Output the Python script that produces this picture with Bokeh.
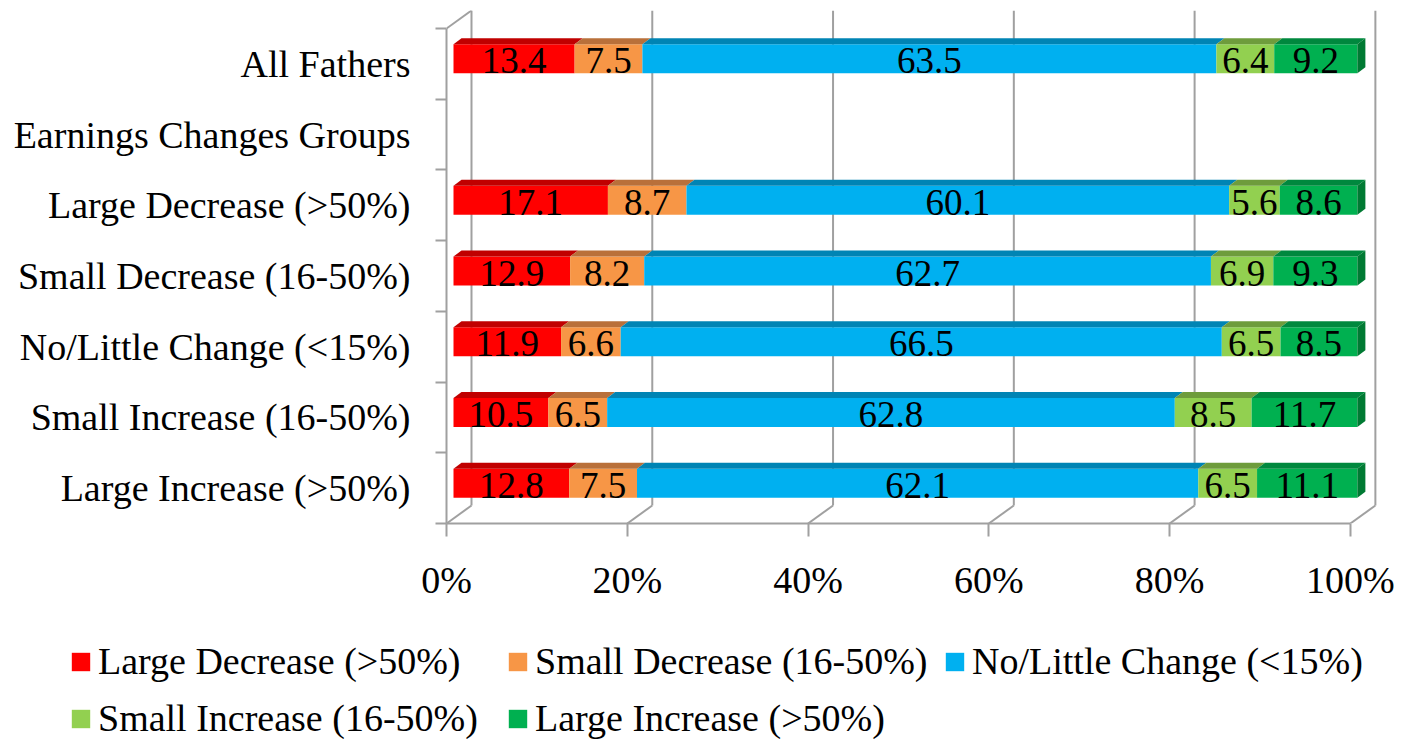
from bokeh.plotting import figure
from bokeh.models import Range1d, FixedTicker, Legend, LegendItem
from bokeh.core.properties import value
from bokeh.embed import file_html
from bokeh.resources import INLINE

# ---------------- data ----------------
categories = [
    "Large Increase (>50%)",
    "Small Increase (16-50%)",
    "No/Little Change (<15%)",
    "Small Decrease (16-50%)",
    "Large Decrease (>50%)",
    "Earnings Changes Groups",
    "All Fathers",
]
series_names = [
    "Large Decrease (>50%)",
    "Small Decrease (16-50%)",
    "No/Little Change (<15%)",
    "Small Increase (16-50%)",
    "Large Increase (>50%)",
]
large_decrease = [12.8, 10.5, 11.9, 12.9, 17.1, None, 13.4]
small_decrease = [7.5, 6.5, 6.6, 8.2, 8.7, None, 7.5]
no_little_change = [62.1, 62.8, 66.5, 62.7, 60.1, None, 63.5]
small_increase = [6.5, 8.5, 6.5, 6.9, 5.6, None, 6.4]
large_increase = [11.1, 11.7, 8.5, 9.3, 8.6, None, 9.2]
x_ticks = [0, 20, 40, 60, 80, 100]
x_tick_labels = ["0%", "20%", "40%", "60%", "80%", "100%"]

# ---------------- style ----------------
front_colors = ["#FF0000", "#F79646", "#00B0F0", "#92D050", "#00B050"]
top_colors = ["#C00000", "#B9703A", "#0084B4", "#6E9C3C", "#00883E"]
side_color = "#007A33"
grid_color = "#A0A0A0"
FONT = "Liberation Serif"

W = 1400
H_MAIN = 640
H_LEG = 99
PX_X = 9.04   # pixels per percent
PX_Y = 70.7   # pixels per category
DX = 25 / PX_X    # depth of the box (x)
DY = 18 / PX_Y    # depth of the box (y)
OX = 7 / PX_X     # bar front offset
OY = 5 / PX_Y
BDX = 8 / PX_X    # bar depth
BDY = 6 / PX_Y
BH = 29 / PX_Y    # bar thickness

n_cat = len(categories)
x_end = 103.0
y_end = n_cat + DY
frame_w = int(round(x_end * PX_X))
frame_h = int(round(y_end * PX_Y))
top_border = 10
left_border = 446

p = figure(
    width=W, height=H_MAIN,
    x_range=Range1d(0, x_end), y_range=Range1d(0, y_end),
    output_backend="svg", toolbar_location=None,
    min_border_left=left_border, min_border_right=W - left_border - frame_w,
    min_border_top=top_border, min_border_bottom=H_MAIN - top_border - frame_h,
    outline_line_color=None,
)
p.xgrid.visible = False
p.ygrid.visible = False

# ---------------- walls ----------------
p.segment(x0=[t + DX for t in x_ticks], y0=[DY] * len(x_ticks),
          x1=[t + DX for t in x_ticks], y1=[n_cat + DY] * len(x_ticks),
          line_color=grid_color, line_width=2)
p.segment(x0=x_ticks, y0=[0] * len(x_ticks),
          x1=[t + DX for t in x_ticks], y1=[DY] * len(x_ticks),
          line_color=grid_color, line_width=2)
p.segment(x0=[0], y0=[n_cat], x1=[DX], y1=[n_cat + DY],
          line_color=grid_color, line_width=2)

# ---------------- bars ----------------
all_series = [large_decrease, small_decrease, no_little_change, small_increase, large_increase]
label_x, label_y, label_t = [], [], []
lefts = [0.0] * n_cat
totals = [sum(s[i] for s in all_series) if all_series[0][i] is not None else None
          for i in range(n_cat)]
for k, vals in enumerate(all_series):
    ys, ls, rs = [], [], []
    txs, tys = [], []
    sxs, sys_ = [], []
    for i, v in enumerate(vals):
        if v is None:
            continue
        w = v / totals[i] * 100.0
        l = lefts[i]
        r = l + w
        lefts[i] = r
        yc = i + 0.5 + OY
        ys.append(yc)
        ls.append(l + OX)
        rs.append(r + OX)
        yt = yc + BH / 2
        yb = yc - BH / 2
        txs.append([l + OX, r + OX, r + OX + BDX, l + OX + BDX])
        tys.append([yt, yt, yt + BDY, yt + BDY])
        if k == len(all_series) - 1:
            sxs.append([r + OX, r + OX + BDX, r + OX + BDX, r + OX])
            sys_.append([yb, yb + BDY, yt + BDY, yt])
        label_x.append((l + r) / 2 + OX)
        label_y.append(yc - 2 / PX_Y)
        label_t.append(f"{v:.1f}")
    p.hbar(y=ys, left=ls, right=rs, height=BH,
           fill_color=front_colors[k], line_color=None)
    p.patches(xs=txs, ys=tys, fill_color=top_colors[k], line_color=None)
    if sxs:
        p.patches(xs=sxs, ys=sys_, fill_color=side_color, line_color=None)

p.text(x=label_x, y=label_y, text=label_t, text_font=value(FONT),
       text_font_size="37px", text_align="center", text_baseline="middle",
       text_color="black")

# ---------------- axes ----------------
xa = p.xaxis[0]
xa.ticker = FixedTicker(ticks=x_ticks, minor_ticks=[])
xa.major_label_overrides = {t: lab for t, lab in zip(x_ticks, x_tick_labels)}
xa.bounds = (0, 100)
xa.axis_line_color = grid_color
xa.axis_line_width = 2
xa.major_tick_line_color = grid_color
xa.major_tick_line_width = 2
xa.major_tick_out = 13
xa.major_tick_in = 0
xa.minor_tick_line_color = None
xa.major_label_standoff = 22
xa.major_label_text_font = FONT
xa.major_label_text_font_size = "38px"
xa.major_label_text_color = "black"

ya = p.yaxis[0]
centers = [i + 0.5 for i in range(n_cat)]
ya.ticker = FixedTicker(ticks=centers, minor_ticks=list(range(n_cat + 1)))
ya.major_label_overrides = {c: lab for c, lab in zip(centers, categories)}
ya.bounds = (0, n_cat)
ya.axis_line_color = grid_color
ya.axis_line_width = 2
ya.major_tick_line_color = None
ya.major_tick_out = 0
ya.major_tick_in = 0
ya.minor_tick_line_color = grid_color
ya.minor_tick_line_width = 2
ya.minor_tick_out = 11
ya.minor_tick_in = 0
ya.major_label_standoff = 25
ya.major_label_text_font = FONT
ya.major_label_text_font_size = "38px"
ya.major_label_text_color = "black"

# ---------------- legend strip (separate root below the chart) ----------------
pl = figure(
    width=W, height=H_LEG,
    x_range=Range1d(0, 1), y_range=Range1d(0, 1),
    output_backend="svg", toolbar_location=None,
    min_border=0, min_border_left=0, min_border_right=0,
    min_border_top=0, min_border_bottom=0,
    x_axis_location=None, y_axis_location=None,
    outline_line_color=None,
)
pl.xgrid.visible = False
pl.ygrid.visible = False
leg_renderers = []
for k in range(len(series_names)):
    # swatch renderers for the legend; their one bar lies outside the visible range
    leg_renderers.append(pl.hbar(y=[-5], left=[0], right=[1], height=0.5,
                                 fill_color=front_colors[k], line_color=None))
legend = Legend(
    items=[LegendItem(label=n, renderers=[r]) for n, r in zip(series_names, leg_renderers)],
    orientation="horizontal", ncols=3,
    location=(69, -1),
    label_text_font=FONT, label_text_font_size="38px", label_text_color="black",
    glyph_width=23, glyph_height=23, label_standoff=6, label_width=395,
    spacing=13, padding=0, margin=0,
    border_line_color=None, background_fill_alpha=0,
)
pl.add_layout(legend)

open("out.html", "w").write(file_html([p, pl], INLINE))
